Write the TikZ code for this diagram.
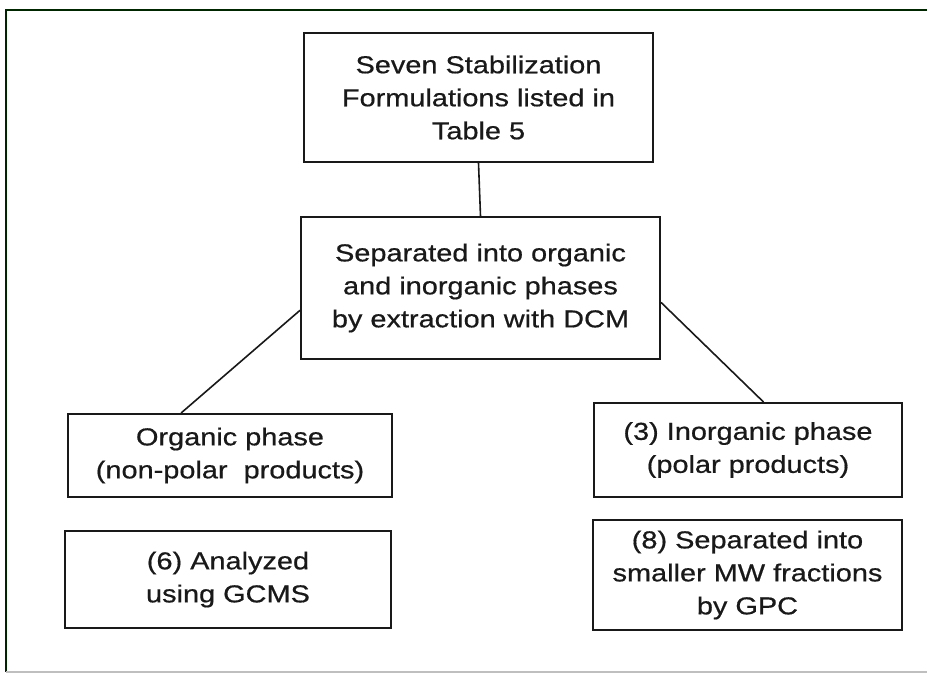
\documentclass[tikz,border=0pt]{standalone}
\usepackage{fontspec}
\setmainfont[FakeStretch=1.18,FakeBold=0.6]{Liberation Sans}
\usetikzlibrary{calc}
\begin{document}
\begin{tikzpicture}[x=1pt,y=-1pt,
  box/.style={draw=black!90, line width=2pt, align=center, text=black!90,
    font=\fontsize{24.5}{33}\selectfont, inner sep=0pt},
  conn/.style={draw=black!90, line width=1.6pt},
  frame/.style={draw=black!85!green, line width=2pt}]
\useasboundingbox (0,0) rectangle (927,682);
\fill[white] (0,0) rectangle (927,682);
% frame
\coordinate (fTL) at (6,10);
\coordinate (fTR) at (930,10);
\coordinate (fBL) at (6,672);
\coordinate (fBR) at (930,672);
\draw[frame] (fTR) -- (fTL) -- (fBL);
\draw[draw=black!25, line width=1.2pt] (fBL) -- (fBR);
% nodes
\node[box, minimum width=349pt, minimum height=129pt] (top) at (478.5,97.5)
  {\raisebox{-13pt}{\parbox{340pt}{\centering Seven Stabilization\\Formulations listed in\\Table 5}}};
\node[box, minimum width=359pt, minimum height=142pt] (mid) at (480.5,288)
  {\raisebox{1pt}{\parbox{350pt}{\centering Separated into organic\\and inorganic phases\\by extraction with DCM}}};
\node[box, minimum width=324pt, minimum height=83pt] (org) at (230,455.5)
  {\raisebox{1.5pt}{\parbox{316pt}{\centering Organic phase\\(non-polar~ products)}}};
\node[box, minimum width=326pt, minimum height=97pt] (gcms) at (228,579.5)
  {\raisebox{-14pt}{\parbox{316pt}{\centering (6) Analyzed\\using GCMS}}};
\node[box, minimum width=308pt, minimum height=94pt] (inorg) at (748,450)
  {\raisebox{-1.5pt}{\parbox{300pt}{\centering (3) Inorganic phase\\(polar products)}}};
\node[box, minimum width=309pt, minimum height=110pt] (gpc) at (747.5,575)
  {\raisebox{-9pt}{\parbox{300pt}{\centering (8) Separated into\\smaller MW fractions\\by GPC}}};
% connectors
\draw[conn] (top.south) -- (mid.north);
\draw[conn] ($(mid.north west)!0.655!(mid.south west)$) -- ($(org.north west)!0.35!(org.north east)$);
\draw[conn] ($(mid.north east)!0.6!(mid.south east)$) -- ($(inorg.north west)!0.55!(inorg.north east)$);
\end{tikzpicture}
\end{document}
